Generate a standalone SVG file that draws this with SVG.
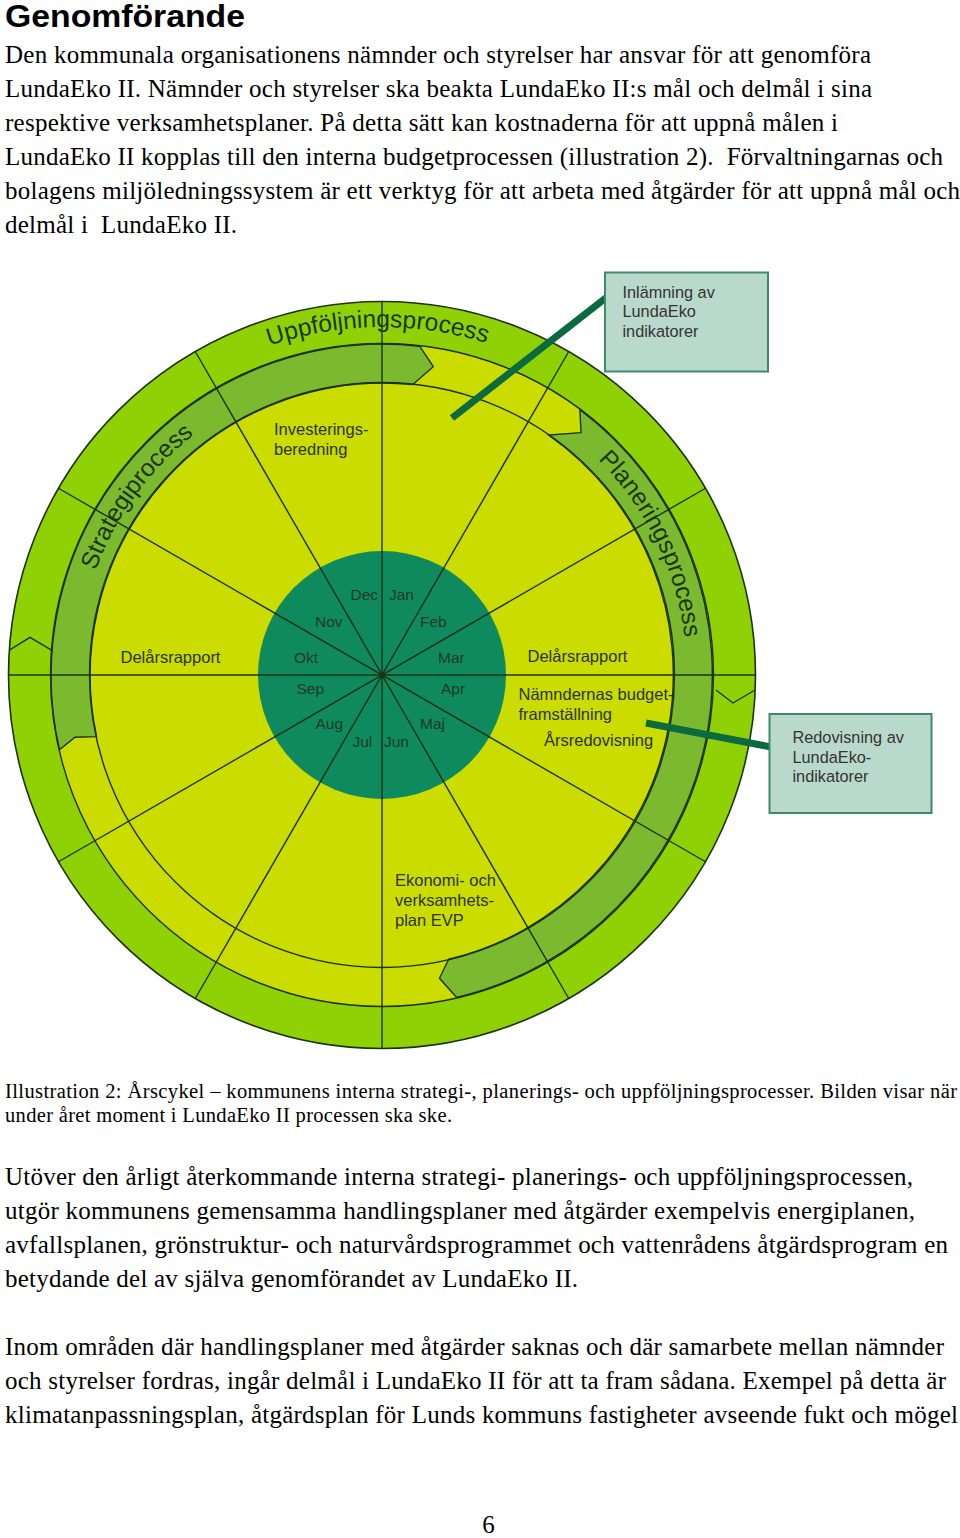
<svg xmlns="http://www.w3.org/2000/svg" width="960" height="1538" viewBox="0 0 960 1538">
<style>
.body{font-family:"Liberation Serif","Times New Roman",serif;font-size:25px;fill:#000}
.cap{font-family:"Liberation Serif","Times New Roman",serif;font-size:20.5px;fill:#000}
.lbl{font-family:"Liberation Sans",Arial,sans-serif;font-size:16.5px;fill:#2a3418}
.mon{font-family:"Liberation Sans",Arial,sans-serif;font-size:15.5px;fill:#1c3a26}
.proc{font-family:"Liberation Sans",Arial,sans-serif;font-size:24.5px;fill:#1a3612}
.box{fill:#bad9cd;stroke:#3f8a6c;stroke-width:2}
.boxt{font-family:"Liberation Sans",Arial,sans-serif;font-size:16.3px;fill:#333}
.ln{stroke:#1b3310;stroke-width:1.4;fill:none}
.band{fill:#7bb92f;stroke:#1b3310;stroke-width:1.4}
.lead{stroke:#0b6a40;stroke-width:7;fill:none}
</style>
<defs>
<path id="pUpp" d="M 34 675 A 348 348 0 0 1 730 675"/>
<path id="pStr" d="M 103.6 799.6 A 306 306 0 0 1 414 370.7"/>
<path id="pPla" d="M 403.3 370.7 A 305 305 0 0 1 634.8 845.6"/>
</defs>
<rect width="960" height="1538" fill="#fff"/>

<g id="text-top">
<text x="5" y="27" font-family="Liberation Sans, Arial, sans-serif" font-weight="bold" font-size="31" textLength="240" lengthAdjust="spacingAndGlyphs" fill="#000">Genomförande</text>
<text class="body" x="5" y="63" textLength="866">Den kommunala organisationens nämnder och styrelser har ansvar för att genomföra</text>
<text class="body" x="5" y="97" textLength="867">LundaEko II. Nämnder och styrelser ska beakta LundaEko II:s mål och delmål i sina</text>
<text class="body" x="5" y="131" textLength="833">respektive verksamhetsplaner. På detta sätt kan kostnaderna för att uppnå målen i</text>
<text class="body" x="5" y="165" textLength="938" xml:space="preserve">LundaEko II kopplas till den interna budgetprocessen (illustration 2).  Förvaltningarnas och</text>
<text class="body" x="5" y="199" textLength="955">bolagens miljöledningssystem är ett verktyg för att arbeta med åtgärder för att uppnå mål och</text>
<text class="body" x="5" y="233" textLength="232" xml:space="preserve">delmål i  LundaEko II.</text>
</g>

<g id="wheel">
<circle cx="382" cy="675" r="373.5" fill="#8fd104" stroke="#1b3310" stroke-width="1.6"/>
<circle cx="382" cy="675" r="331.5" fill="#cbdc00"/>
<path id="arrow-strategi" class="band" d="M 59.5 749.7 A 331.5 331.5 0 0 1 419.7 346.2 L 433.3 366.7 L 412.8 384.6 A 292.5 292.5 0 0 0 96.6 736.6 L 75 737.3 Z"/>
<path id="arrow-planering" class="band" d="M 579.9 409.7 A 331.5 331.5 0 0 1 456.7 997.5 L 439.5 978.3 L 448.6 959.3 A 292.5 292.5 0 0 0 548.4 435 L 581 432.7 Z"/>
<circle class="ln" cx="382" cy="675" r="331.5"/>
<circle class="ln" cx="382" cy="675" r="292.5"/>
<circle cx="382" cy="675" r="124" fill="#0f8a5f"/>
<polyline class="ln" points="9.8,649.9 30,637.3 51.9,650.3"/>
<polyline class="ln" points="716,690 733,703 755,690"/>
</g>

<g id="spokes">
<line class="ln" x1="382" y1="301.5" x2="382" y2="1048.5"/>
<line class="ln" x1="568.75" y1="351.5" x2="195.25" y2="998.5"/>
<line class="ln" x1="705.5" y1="488.25" x2="58.5" y2="861.75"/>
<line class="ln" x1="755.5" y1="675" x2="8.5" y2="675"/>
<line class="ln" x1="705.5" y1="861.75" x2="58.5" y2="488.25"/>
<line class="ln" x1="568.75" y1="998.5" x2="195.25" y2="351.5"/>
<circle cx="382" cy="675" r="2.5" fill="#1b3310"/>
</g>

<g id="process-labels">
<text class="proc"><textPath href="#pUpp" startOffset="49.6%" text-anchor="middle">Uppföljningsprocess</textPath></text>
<text class="proc"><textPath href="#pStr" startOffset="50%" text-anchor="middle">Strategiprocess</textPath></text>
<text class="proc"><textPath href="#pPla" startOffset="50%" text-anchor="middle">Planeringsprocess</textPath></text>
</g>

<g id="months">
<text class="mon" x="350.5" y="600">Dec</text>
<text class="mon" x="389" y="600">Jan</text>
<text class="mon" x="315" y="627">Nov</text>
<text class="mon" x="420" y="627">Feb</text>
<text class="mon" x="294" y="663">Okt</text>
<text class="mon" x="438" y="663">Mar</text>
<text class="mon" x="296.5" y="694">Sep</text>
<text class="mon" x="441" y="694">Apr</text>
<text class="mon" x="315.5" y="728.5">Aug</text>
<text class="mon" x="420" y="728.5">Maj</text>
<text class="mon" x="352.5" y="747">Jul</text>
<text class="mon" x="384" y="747">Jun</text>
</g>

<g id="wheel-labels">
<text class="lbl" x="274" y="435">Investerings-</text>
<text class="lbl" x="274" y="454.5">beredning</text>
<text class="lbl" x="120.5" y="662.5">Delårsrapport</text>
<text class="lbl" x="527.5" y="661.5">Delårsrapport</text>
<text class="lbl" x="518.5" y="700">Nämndernas budget-</text>
<text class="lbl" x="518.5" y="719.5">framställning</text>
<text class="lbl" x="544" y="746">Årsredovisning</text>
<text class="lbl" x="395" y="886">Ekonomi- och</text>
<text class="lbl" x="395" y="906">verksamhets-</text>
<text class="lbl" x="395" y="926">plan EVP</text>
</g>

<g id="connectors">
<line class="lead" x1="607" y1="297" x2="452" y2="418"/>
<line class="lead" x1="771" y1="747" x2="646" y2="723"/>
</g>

<g id="box-inlamning">
<rect class="box" x="605" y="272.5" width="163" height="99"/>
<text class="boxt" x="622.5" y="297.5">Inlämning av</text>
<text class="boxt" x="622.5" y="317">LundaEko</text>
<text class="boxt" x="622.5" y="336.5">indikatorer</text>
</g>

<g id="box-redovisning">
<rect class="box" x="769.5" y="714" width="162" height="99"/>
<text class="boxt" x="792.5" y="743">Redovisning av</text>
<text class="boxt" x="792.5" y="763">LundaEko-</text>
<text class="boxt" x="792.5" y="782">indikatorer</text>
</g>

<g id="text-bottom">
<text class="cap" x="5" y="1098" textLength="952">Illustration 2: Årscykel – kommunens interna strategi-, planerings- och uppföljningsprocesser. Bilden visar när</text>
<text class="cap" x="5" y="1122" textLength="447">under året moment i LundaEko II processen ska ske.</text>
<text class="body" x="5" y="1185" textLength="908">Utöver den årligt återkommande interna strategi- planerings- och uppföljningsprocessen,</text>
<text class="body" x="5" y="1219" textLength="910">utgör kommunens gemensamma handlingsplaner med åtgärder exempelvis energiplanen,</text>
<text class="body" x="5" y="1253" textLength="943">avfallsplanen, grönstruktur- och naturvårdsprogrammet och vattenrådens åtgärdsprogram en</text>
<text class="body" x="5" y="1287" textLength="573">betydande del av själva genomförandet av LundaEko II.</text>
<text class="body" x="5" y="1355" textLength="939">Inom områden där handlingsplaner med åtgärder saknas och där samarbete mellan nämnder</text>
<text class="body" x="5" y="1389" textLength="941">och styrelser fordras, ingår delmål i LundaEko II för att ta fram sådana. Exempel på detta är</text>
<text class="body" x="5" y="1423" textLength="953">klimatanpassningsplan, åtgärdsplan för Lunds kommuns fastigheter avseende fukt och mögel</text>
<text class="body" x="488.5" y="1533" text-anchor="middle" font-size="22">6</text>
</g>
</svg>
